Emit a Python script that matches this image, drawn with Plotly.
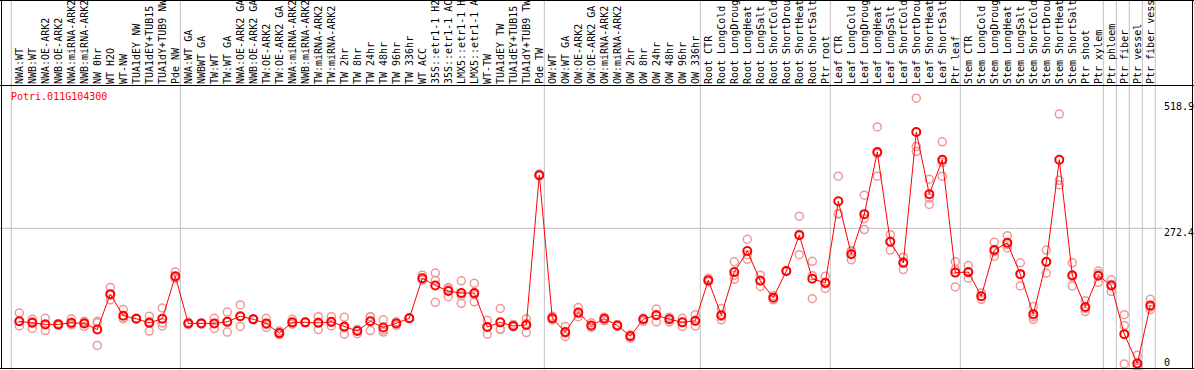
import plotly.graph_objects as go

gene = "Potri.011G104300"

labels = [
    "NWA:WT", "NWB:WT", "NWA:OE-ARK2", "NWB:OE-ARK2", "NWA:miRNA-ARK2", "NWB:miRNA-ARK2",
    "NW 0hr", "WT H2O", "WT-NW", "TUA1dEY NW", "TUA1dEY+TUB15", "TUA1dY+TUB9 NW", "Pde NW",
    "NWA:WT GA", "NWBWT GA", "TW:WT", "TW:WT GA", "NWA:OE-ARK2 GA", "NWB:OE-ARK2 GA",
    "TW:OE-ARK2", "TW:OE-ARK2 GA", "NWA:miRNA-ARK2", "NWB:miRNA-ARK2", "TW:miRNA-ARK2",
    "TW:miRNA-ARK2", "TW 2hr", "TW 8hr", "TW 24hr", "TW 48hr", "TW 96hr", "TW 336hr",
    "WT ACC", "35S::etr1-1 H2", "35S::etr1-1 AC", "LMX5::etr1-1 H", "LMX5::etr1-1 A",
    "WT-TW", "TUA1dEY TW", "TUA1dEY+TUB15", "TUA1dY+TUB9 TW", "Pde TW",
    "OW:WT", "OW:WT GA", "OW:OE-ARK2", "OW:OE-ARK2 GA", "OW:miRNA-ARK2", "OW:miRNA-ARK2",
    "OW 2hr", "OW 8hr", "OW 24hr", "OW 48hr", "OW 96hr", "OW 336hr",
    "Root CTR", "Root LongCold", "Root LongDroug", "Root LongHeat", "Root LongSalt",
    "Root ShortCold", "Root ShortDrou", "Root ShortHeat", "Root ShortSalt", "Ptr root",
    "Leaf CTR", "Leaf LongCold", "Leaf LongDroug", "Leaf LongHeat", "Leaf LongSalt",
    "Leaf ShortCold", "Leaf ShortDrou", "Leaf ShortHeat", "Leaf ShortSalt", "Ptr leaf",
    "Stem CTR", "Stem LongCold", "Stem LongDroug", "Stem LongHeat", "Stem LongSalt",
    "Stem ShortCold", "Stem ShortDrou", "Stem ShortHeat", "Stem ShortSalt", "Ptr shoot",
    "Ptr xylem", "Ptr phloem", "Ptr fiber", "Ptr vessel", "Ptr fiber vess",
]

means = [
    91, 88, 85, 85, 88, 87, 75, 144, 102, 96, 88, 96, 179,
    87, 87, 87, 90, 101, 95, 87, 68, 89, 89, 88, 90, 81, 72, 91, 79, 87, 97,
    175, 161, 150, 146, 146, 80, 89, 82, 84, 376,
    97, 70, 108, 83, 96, 83, 62, 95, 103, 95, 89, 92,
    171, 103, 187, 228, 170, 137, 189, 259, 174, 166,
    325, 222, 300, 421, 246, 205, 460, 339, 406, 186,
    187, 140, 230, 244, 183, 105, 207, 406, 181, 119,
    180, 161, 66, 9, 122,
]

rep_a = [
    107, 95, 97, 87, 96, 91, 91, 157, 114, 96, 101, 117, 187,
    87, 87, 97, 109, 123, 95, 97, 72, 95, 89, 100, 100, 99, 75, 100, 94, 88, 97,
    181, 185, 157, 170, 165, 93, 116, 85, 96, 378,
    101, 81, 118, 88, 99, 85, 65, 97, 115, 99, 97, 104,
    175, 116, 207, 251, 181, 141, 190, 296, 208, 179,
    374, 227, 337, 470, 260, 216, 526, 368, 441, 207,
    200, 146, 245, 258, 205, 120, 230, 495, 205, 131,
    189, 172, 104, 25, 134,
]

rep_b = [
    82, 77, 73, 83, 84, 81, 44, 133, 96, 96, 72, 82, 175,
    85, 86, 77, 70, 81, 94, 79, 65, 86, 88, 75, 82, 66, 67, 73, 70, 83, 96,
    172, 128, 139, 126, 129, 66, 75, 80, 69, 375,
    94, 61, 100, 79, 92, 81, 58, 91, 90, 90, 81, 82,
    168, 94, 173, 212, 159, 133, 188, 221, 135, 155,
    300, 211, 291, 374, 230, 192, 432, 331, 374, 158,
    175, 134, 218, 234, 160, 95, 185, 357, 160, 110,
    167, 149, 83, 4, 114,
]

rep_c = [
    91, 90, 86, 85, 86, 89, 88, 142, 97, 97, 90, 88, 176,
    89, 88, 87, 91, 100, 96, 85, 67, 86, 90, 89, 89, 78, 73, 100, 74, 90, 98,
    172, 171, 154, 141, 143, 81, 76, 81, 87, 376,
    96, 68, 106, 82, 97, 83, 63, 97, 104, 96, 89, 91,
    170, 100, 181, 221, 171, 137, 189, 261, 180, 164,
    301, 229, 270, 418, 247, 207, 422, 319, 401, 192,
    186, 140, 227, 240, 184, 100, 206, 366, 178, 116,
    184, 163, 8, 0, 119,
]

divider_after = [-1, 12, 40, 52, 62, 72, 83, 84, 85, 86, 87]
y_ticks = [518.9, 272.4, 0]
grid_value = 272.4

# ---- layout geometry (pixels) ----
W, H = 1194, 370
TOP = 85            # height of the label band
STEP = 13.0         # px per category
X0PX = 19.3         # pixel of first category
Y0PX = 368.0        # pixel of value 0
SCALE = 0.5129      # px per unit

x_lo = -X0PX / STEP
x_hi = x_lo + W / STEP
plot_h = H - TOP
y_hi = (Y0PX - TOP) / SCALE
y_lo = -(H - Y0PX) / SCALE

xs = list(range(len(labels)))

fig = go.Figure()

rx, ry = [], []
for reps in (rep_a, rep_b, rep_c):
    for i, v in enumerate(reps):
        if v is not None:
            rx.append(i)
            ry.append(v)

fig.add_trace(go.Scatter(
    x=rx, y=ry, mode="markers",
    marker=dict(symbol="circle-open", size=8, color="#EE9999", line=dict(width=1.5)),
    showlegend=False, hoverinfo="skip",
))
fig.add_trace(go.Scatter(
    x=xs, y=means, mode="lines+markers",
    line=dict(color="#FF0000", width=1),
    marker=dict(symbol="circle-open", size=8, color="#FF0000", line=dict(width=2)),
    showlegend=False,
))

shapes = []
for d in divider_after:
    xv = d + 5.0 / STEP
    shapes.append(dict(type="line", xref="x", yref="paper", x0=xv, x1=xv, y0=0, y1=1,
                       line=dict(color="#C0C0C0", width=1), layer="below"))
shapes.append(dict(type="line", xref="paper", yref="y", x0=0, x1=1163 / W,
                   y0=grid_value, y1=grid_value, line=dict(color="#C0C0C0", width=1), layer="below"))


def px_x(p):
    return p / W


def px_y(p):
    return 1 - p / H


for (x0, y0, x1, y1) in [
    (0, 0.5, W, 0.5),
    (0, TOP + 0.5, W, TOP + 0.5),
    (0, 368.5, W, 368.5),
    (1.5, 0, 1.5, 369),
    (1192.5, 0, 1192.5, 369),
]:
    shapes.append(dict(type="line", xref="paper", yref="paper",
                       x0=px_x(x0), x1=px_x(x1), y0=px_y(y0), y1=px_y(y1),
                       line=dict(color="black", width=1)))

mono = "DejaVu Sans Mono"
annotations = [dict(
    text=gene, xref="paper", yref="paper", x=px_x(9), y=px_y(96),
    xanchor="left", yanchor="middle", showarrow=False,
    font=dict(family=mono, size=10, color="#FF0000"),
)]
tick_px = {518.9: 107, 272.4: 232, 0: 362}
for t in y_ticks:
    annotations.append(dict(
        text=str(t), xref="paper", yref="paper", x=px_x(1162), y=px_y(tick_px[t]),
        xanchor="left", yanchor="middle", showarrow=False,
        font=dict(family=mono, size=10, color="black"),
    ))

fig.update_layout(
    width=W, height=H,
    margin=dict(l=0, r=0, t=0, b=0),
    paper_bgcolor="white", plot_bgcolor="white",
    shapes=shapes, annotations=annotations,
    xaxis=dict(
        range=[x_lo, x_hi], side="top", tickmode="array", tickvals=xs, ticktext=labels,
        tickangle=-90, tickfont=dict(family=mono, size=10, color="black"),
        showgrid=False, zeroline=False, showline=False, ticks="", automargin=False,
        fixedrange=True,
    ),
    yaxis=dict(
        range=[y_lo, y_hi], domain=[0, plot_h / H], showgrid=False, zeroline=False,
        showticklabels=False, showline=False, ticks="", automargin=False, fixedrange=True,
    ),
)

fig.write_html(
    "out.html",
    config={"displayModeBar": False},
    post_script="document.body.style.margin='0';document.body.style.overflow='hidden';",
)
